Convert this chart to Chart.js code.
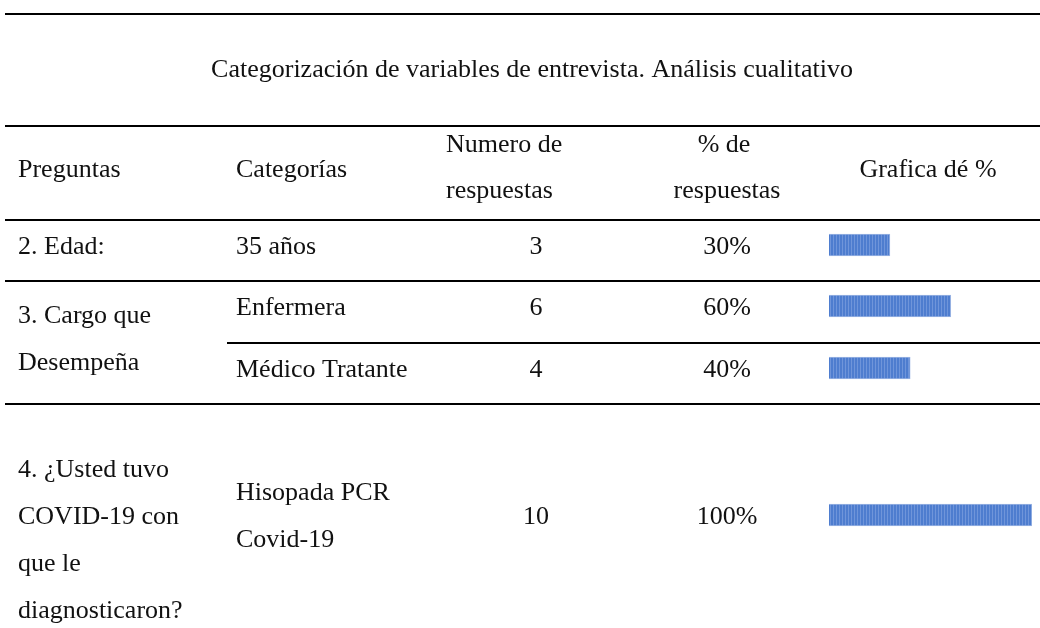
<!DOCTYPE html>
<html>
<head>
<meta charset="utf-8">
<script src="https://cdn.jsdelivr.net/npm/chart.js@4"></script>
<style>
  html, body { margin: 0; padding: 0; background: #fff; }
  #page { position: relative; width: 1040px; height: 628px; overflow: hidden; }
  #tabla { position: absolute; left: 0; top: 0; }
  .bar { position: absolute; left: 829px; width: 203px; height: 40px; }
</style>
</head>
<body>
<div id="page"><canvas id="tabla" width="1040" height="628"></canvas></div>
<script>
// table data
const preguntas = [['2. Edad:'], ['3. Cargo que', 'Desempeña'], ['4. ¿Usted tuvo', 'COVID-19 con', 'que le', 'diagnosticaron?']];
const categorias = [['35 años'], ['Enfermera'], ['Médico Tratante'], ['Hisopada PCR', 'Covid-19']];
const respuestas = [3, 6, 4, 10];
const porcentajes = [30, 60, 40, 100];
const encabezados = [['Preguntas'], ['Categorías'], ['Numero de', 'respuestas'], ['% de', 'respuestas'], ['Grafica dé %']];
const titulo = 'Categorización de variables de entrevista. Análisis cualitativo';

const page = document.getElementById('page');
const ctx = document.getElementById('tabla').getContext('2d');
const FONT = "26px 'Liberation Serif'";

function text(str, x, cy, center) {
	ctx.textAlign = center ? 'center' : 'left';
	ctx.fillText(str, x, cy + 2);
}

function rule(x1, x2, y) {
	ctx.fillStyle = '#000';
	ctx.fillRect(x1, y - 1, x2 - x1, 2);
	ctx.fillStyle = '#111';
}

// row positions: question line centers, category line centers, value center
const rowLayout = [
	{ q: [245], c: [245], v: 245 },
	{ q: [314, 361], c: [306], v: 306 },
	{ q: [], c: [368], v: 368 },
	{ q: [468, 515, 562, 609], c: [491, 538], v: 515 }
];
const qRows = [0, 1, 3];

function drawTable() {
	ctx.fillStyle = '#111';
	ctx.textBaseline = 'middle';
	ctx.font = FONT;

	rule(5, 1040, 14);
	rule(5, 1040, 126);
	rule(5, 1040, 220);
	rule(5, 1040, 281);
	rule(227, 1040, 343);
	rule(5, 1040, 404);

	text(titulo, 532, 68, true);

	text(encabezados[0][0], 18, 168);
	text(encabezados[1][0], 236, 168);
	text(encabezados[2][0], 446, 143);
	text(encabezados[2][1], 446, 189);
	text(encabezados[3][0], 724, 143, true);
	text(encabezados[3][1], 727, 189, true);
	text(encabezados[4][0], 928, 168, true);

	qRows.forEach(function(r, i) {
		preguntas[i].forEach(function(line, k) {
			text(line, 18, rowLayout[r].q[k]);
		});
	});

	categorias.forEach(function(cat, i) {
		cat.forEach(function(line, k) {
			text(line, 236, rowLayout[i].c[k]);
		});
		text(String(respuestas[i]), 536, rowLayout[i].v, true);
		text(porcentajes[i] + '%', 727, rowLayout[i].v, true);
	});
}

if (document.fonts && document.fonts.load) {
	document.fonts.load(FONT).then(drawTable, drawTable);
} else {
	drawTable();
}

// striped blue fill like the original bars
function stripePattern() {
	const c = document.createElement('canvas');
	c.width = 3; c.height = 4;
	const g = c.getContext('2d');
	g.fillStyle = '#4e7dcf';
	g.fillRect(0, 0, 3, 4);
	g.fillStyle = '#6f95da';
	g.fillRect(1, 0, 1, 4);
	return g.createPattern(c, 'repeat');
}

// one small horizontal bar chart per row, x from 0 to 100 %
porcentajes.forEach(function(p, i) {
	const cv = document.createElement('canvas');
	cv.className = 'bar';
	cv.width = 203;
	cv.height = 40;
	cv.style.top = (rowLayout[i].v - 20) + 'px';
	page.appendChild(cv);
	new Chart(cv, {
		type: 'bar',
		data: {
			labels: [categorias[i].join(' ')],
			datasets: [{
				data: [p],
				backgroundColor: stripePattern(),
				borderColor: '#9db6e4',
				borderWidth: 1,
				barThickness: 22
			}]
		},
		options: {
			indexAxis: 'y',
			responsive: false,
			animation: false,
			layout: { padding: 0 },
			plugins: { legend: { display: false }, tooltip: { enabled: false } },
			scales: {
				x: { display: false, min: 0, max: 100 },
				y: { display: false }
			}
		}
	});
});
</script>
</body>
</html>
